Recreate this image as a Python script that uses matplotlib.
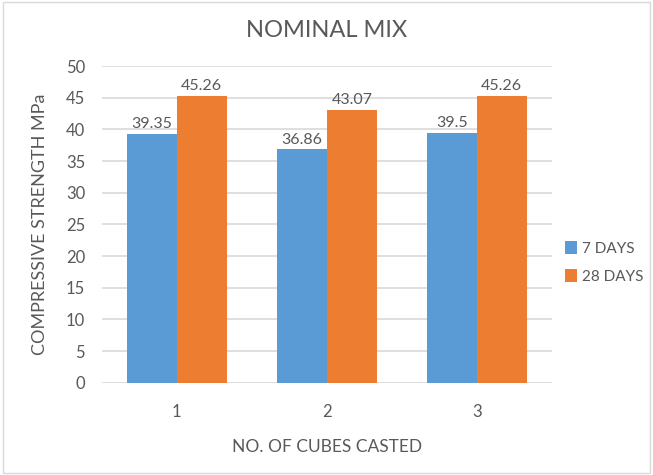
import matplotlib.pyplot as plt
import numpy as np
from matplotlib.patches import Rectangle

plt.rcParams['font.family'] = ['Lato', 'DejaVu Sans']

cubes = ['1', '2', '3']
days7 = [39.35, 36.86, 39.5]
days28 = [45.26, 43.07, 45.26]
labels7 = ['39.35', '36.86', '39.5']
labels28 = ['45.26', '43.07', '45.26']

blue = '#5B9BD5'
orange = '#ED7D31'
grey = '#595959'

fig = plt.figure(figsize=(6.53, 4.75), dpi=100)
ax = fig.add_axes([0.156, 0.194, 0.689, 0.667])

x = np.arange(len(cubes))
w = 1/3
b1 = ax.bar(x - w/2, days7, w, color=blue, label='7 DAYS', zorder=3)
b2 = ax.bar(x + w/2, days28, w, color=orange, label='28 DAYS', zorder=3)

for bars, labs in ((b1, labels7), (b2, labels28)):
    for rect, lab in zip(bars, labs):
        ax.annotate(lab, (rect.get_x() + rect.get_width()/2, rect.get_height()),
                    xytext=(0, 2), textcoords='offset points',
                    ha='center', va='bottom', fontsize=11.5, color=grey)

ax.set_xlim(-0.5, 2.5)
ax.set_ylim(0, 50)
ax.set_yticks(np.arange(0, 51, 5))
ax.set_xticks(x)
ax.set_xticklabels(cubes)
ax.tick_params(length=0, labelsize=12, labelcolor=grey)
ax.tick_params(axis='x', pad=15)
ax.tick_params(axis='y', pad=12)
ax.grid(axis='y', color='#D9D9D9', linewidth=1.2, zorder=0)
for s in ax.spines.values():
    s.set_visible(False)

ax.set_title('NOMINAL MIX', fontsize=17, color=grey, pad=21)
ax.set_xlabel('NO. OF CUBES CASTED', fontsize=12.5, color=grey, labelpad=14)
ax.set_ylabel('COMPRESSIVE STRENGTH MPa', fontsize=13, color=grey, labelpad=13)

ax.legend(loc='center left', bbox_to_anchor=(1.005, 0.38), frameon=False,
          fontsize=11, labelcolor=grey, handlelength=0.8, handleheight=0.9,
          handletextpad=0.35, labelspacing=0.85, borderpad=0.2)

fig.patches.append(Rectangle((0.005, 0.005), 0.99, 0.99, transform=fig.transFigure,
                             fill=False, edgecolor='#D9D9D9', linewidth=1))

fig.savefig('out.png', dpi=100)
